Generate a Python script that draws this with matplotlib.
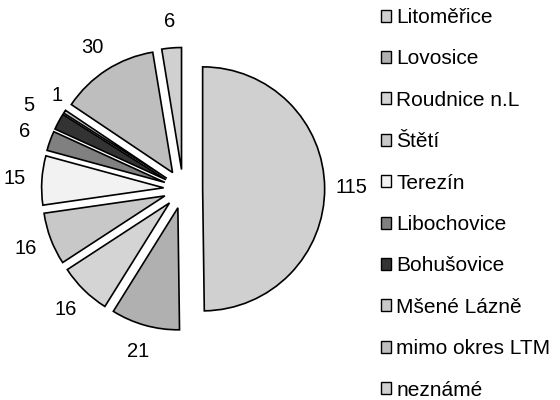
import matplotlib
matplotlib.use("Agg")
import matplotlib.pyplot as plt
from matplotlib.patches import Patch

plt.rcParams['font.family'] = ['Liberation Sans', 'DejaVu Sans']

# data
mista = ["Litoměřice", "Lovosice", "Roudnice n.L", "Štětí", "Terezín",
         "Libochovice", "Bohušovice", "Mšené Lázně", "mimo okres LTM", "neznámé"]
pocty = [115, 21, 16, 16, 15, 6, 5, 1, 30, 6]
barvy = ["#d0d0d0", "#b0b0b0", "#d4d4d4", "#c8c8c8", "#f2f2f2",
         "#808080", "#333333", "#c8c8c8", "#bebebe", "#d0d0d0"]

fig = plt.figure(figsize=(5.6, 4.0), dpi=100)
ax = fig.add_axes([0.0, 0.07, 0.654, 0.915])

wedges, texts = ax.pie(
    pocty,
    colors=barvy,
    labels=[str(v) for v in pocty],
    startangle=90,
    counterclock=False,
    explode=[0.16] * len(pocty),
    labeldistance=1.22,
    wedgeprops=dict(edgecolor="black", linewidth=1.2),
    textprops=dict(fontsize=14.5),
)
for t in texts:
    t.set_ha("center")
    t.set_va("center")

# small labels 5 and 1 pushed apart like in the original
x, y = texts[6].get_position()
texts[6].set_position((x - 0.05, y + 0.03))
x, y = texts[7].get_position()
texts[7].set_position((x + 0.12, y + 0.01))

ax.set_xlim(-1.5, 1.5)
ax.set_ylim(-1.5, 1.5)
ax.set_aspect("equal")

handles = [Patch(facecolor=c, edgecolor="black", linewidth=1.0) for c in barvy]
fig.legend(
    handles, mista,
    loc="upper left",
    bbox_to_anchor=(0.68, 0.98),
    frameon=False,
    fontsize=15,
    handlelength=0.5,
    handleheight=0.5,
    handletextpad=0.25,
    labelspacing=1.075,
    borderpad=0,
    borderaxespad=0,
)

fig.savefig("out.png", dpi=100)
